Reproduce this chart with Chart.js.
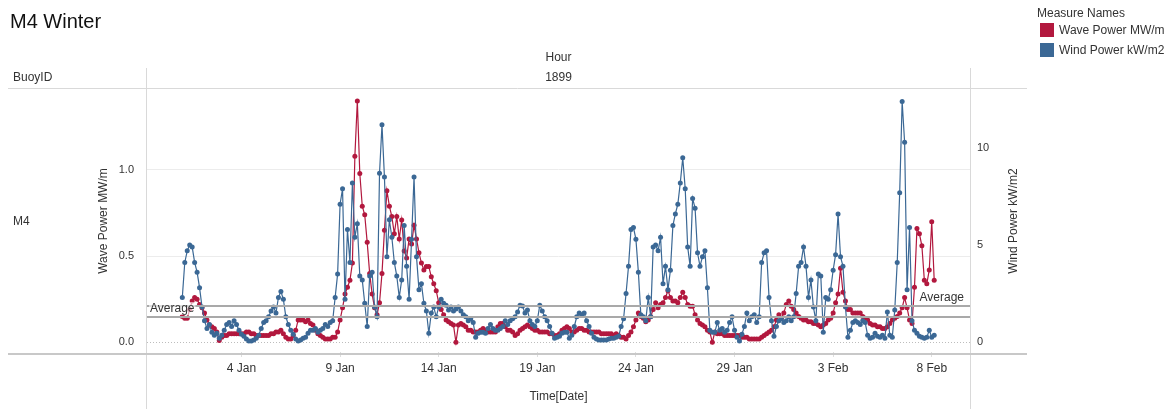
<!DOCTYPE html>
<html>
<head>
<meta charset="utf-8">
<title>M4 Winter</title>
<script src="https://cdn.jsdelivr.net/npm/chart.js@4.4.1/dist/chart.umd.min.js"></script>
<style>
  html, body { margin: 0; padding: 0; background: #fff; }
  canvas { display: block; }
</style>
</head>
<body>
<canvas id="chart" width="1176" height="409"></canvas>
<script>
// samples every 3 hours, starting 1 Jan 00:00 (one row per day)
const stepHours = 3;

const waveValues = [
  0.15, 0.14, 0.14, 0.19, 0.24, 0.26, 0.25, 0.22, // 1 Jan
  0.20, 0.17, 0.13, 0.10, 0.09, 0.08, 0.06, 0.01,
  0.03, 0.04, 0.04, 0.05, 0.05, 0.05, 0.05, 0.05,
  0.05, 0.05, 0.06, 0.06, 0.05, 0.05, 0.04, 0.04,
  0.04, 0.04, 0.04, 0.04, 0.05, 0.05, 0.06, 0.06,
  0.07, 0.05, 0.03, 0.02, 0.02, 0.04, 0.07, 0.13,
  0.13, 0.13, 0.12, 0.13, 0.11, 0.10, 0.07, 0.05,
  0.04, 0.03, 0.02, 0.02, 0.02, 0.03, 0.03, 0.06,
  0.13, 0.20, 0.28, 0.32, 0.36, 0.46, 1.08, 1.40, // 9 Jan
  0.98, 0.79, 0.74, 0.58, 0.40, 0.28, 0.20, 0.16,
  0.23, 0.40, 0.65, 0.88, 0.79, 0.73, 0.63, 0.73,
  0.60, 0.71, 0.53, 0.49, 0.60, 0.57, 0.68, 0.60,
  0.52, 0.46, 0.42, 0.44, 0.44, 0.38, 0.34, 0.30,
  0.23, 0.19, 0.16, 0.13, 0.12, 0.11, 0.10, 0.00,
  0.10, 0.11, 0.10, 0.09, 0.07, 0.07, 0.06, 0.06,
  0.06, 0.07, 0.08, 0.07, 0.06, 0.06, 0.06, 0.06,
  0.09, 0.11, 0.11, 0.09, 0.07, 0.07, 0.06, 0.04,
  0.05, 0.07, 0.08, 0.09, 0.10, 0.09, 0.08, 0.07,
  0.07, 0.06, 0.06, 0.06, 0.06, 0.05, 0.05, 0.04, // 19 Jan
  0.04, 0.05, 0.07, 0.08, 0.09, 0.08, 0.06, 0.06,
  0.07, 0.08, 0.08, 0.07, 0.07, 0.06, 0.06, 0.06,
  0.06, 0.06, 0.05, 0.05, 0.05, 0.05, 0.05, 0.04,
  0.05, 0.04, 0.03, 0.03, 0.02, 0.04, 0.06, 0.09,
  0.13, 0.17, 0.15, 0.14, 0.12, 0.13, 0.15, 0.19,
  0.23, 0.20, 0.22, 0.23, 0.26, 0.30, 0.26, 0.24,
  0.24, 0.23, 0.26, 0.29, 0.26, 0.22, 0.21, 0.21,
  0.16, 0.13, 0.11, 0.10, 0.09, 0.07, 0.06, 0.00,
  0.06, 0.05, 0.05, 0.05, 0.04, 0.04, 0.04, 0.04,
  0.04, 0.04, 0.04, 0.03, 0.03, 0.03, 0.02, 0.02, // 29 Jan
  0.02, 0.02, 0.02, 0.03, 0.04, 0.05, 0.06, 0.07,
  0.09, 0.13, 0.16, 0.14, 0.17, 0.22, 0.24, 0.21,
  0.19, 0.17, 0.15, 0.14, 0.13, 0.13, 0.12, 0.12,
  0.11, 0.11, 0.10, 0.09, 0.10, 0.11, 0.13, 0.14,
  0.17, 0.23, 0.28, 0.43, 0.29, 0.24, 0.19, 0.19,
  0.17, 0.17, 0.17, 0.17, 0.15, 0.14, 0.13, 0.11,
  0.10, 0.10, 0.09, 0.09, 0.08, 0.08, 0.09, 0.11,
  0.13, 0.14, 0.15, 0.17, 0.20, 0.26, 0.20, 0.13,
  0.11, 0.32, 0.66, 0.63, 0.56, 0.36, 0.34, 0.42,
  0.70, 0.36 // 8 Feb
];

const windValues = [
  2.3, 4.1, 4.7, 5.0, 4.9, 4.1, 3.6, 2.8, // 1 Jan
  1.8, 1.1, 0.7, 0.9, 0.5, 0.35, 0.45, 0.2,
  0.35, 0.6, 0.9, 1.0, 0.8, 1.1, 0.9, 0.6,
  0.4, 0.3, 0.15, 0.05, 0.05, 0.1, 0.2, 0.35,
  0.7, 1.0, 1.1, 1.3, 1.6, 1.8, 1.5, 2.3,
  2.6, 2.2, 1.3, 0.9, 0.6, 0.4, 0.15, 0.05,
  0.1, 0.2, 0.25, 0.45, 0.6, 0.6, 0.7, 0.5,
  0.6, 0.7, 0.9, 0.8, 1.0, 1.1, 2.3, 3.5,
  7.1, 7.9, 2.2, 5.8, 4.1, 8.2, 5.4, 6.1, // 9 Jan
  3.4, 3.2, 2.0, 0.8, 3.4, 3.6, 1.8, 1.3,
  8.7, 11.2, 8.5, 4.4, 6.3, 5.4, 4.1, 3.4,
  2.3, 3.2, 6.0, 3.9, 2.2, 5.3, 8.5, 4.4,
  2.7, 3.0, 2.0, 1.6, 0.45, 1.5, 1.8, 1.3,
  1.8, 2.2, 2.0, 1.9, 1.65, 1.8, 1.6, 1.7,
  1.8, 1.6, 1.4, 1.3, 1.1, 1.2, 1.0, 0.25,
  0.45, 0.5, 0.5, 0.45, 0.7, 0.9, 0.7, 0.6,
  0.6, 0.7, 0.8, 1.1, 0.9, 1.1, 1.2, 1.3,
  1.55, 1.9, 1.85, 1.5, 1.65, 1.1, 0.9, 0.8,
  1.1, 1.9, 1.6, 1.3, 1.1, 0.8, 0.45, 0.2, // 19 Jan
  0.25, 0.3, 0.45, 0.5, 0.5, 0.2, 0.35, 0.8,
  1.3, 1.5, 1.4, 1.5, 1.1, 0.8, 0.45, 0.25,
  0.15, 0.1, 0.1, 0.1, 0.1, 0.15, 0.2, 0.2,
  0.25, 0.3, 0.8, 1.2, 2.5, 3.9, 5.8, 5.9,
  5.3, 3.6, 1.4, 1.3, 1.1, 2.3, 1.3, 4.9,
  5.0, 4.7, 5.4, 3.0, 3.9, 2.7, 3.7, 6.0,
  6.6, 7.1, 8.2, 9.5, 7.9, 4.9, 3.9, 7.4,
  6.9, 4.6, 3.9, 4.4, 4.7, 2.8, 0.6, 0.5,
  0.5, 1.0, 0.6, 0.7, 0.5, 0.6, 1.0, 1.3,
  0.6, 0.25, 0.05, 0.4, 0.8, 1.5, 1.1, 1.3, // 29 Jan
  1.4, 1.0, 1.3, 4.1, 4.6, 4.7, 2.3, 1.1,
  0.3, 0.8, 1.1, 1.2, 1.0, 1.1, 1.3, 1.1,
  1.3, 2.5, 3.9, 4.1, 4.9, 3.9, 2.3, 3.2,
  1.8, 1.1, 3.5, 3.4, 0.5, 2.3, 2.2, 2.7,
  3.7, 4.5, 6.6, 4.4, 3.9, 1.8, 0.25, 0.6,
  1.0, 1.1, 1.0, 0.9, 1.1, 1.0, 0.35, 0.2,
  0.25, 0.45, 0.3, 0.25, 0.35, 0.2, 1.55, 0.35,
  0.25, 1.65, 4.1, 7.7, 12.4, 10.3, 2.7, 5.9,
  1.1, 0.6, 0.45, 0.3, 0.25, 0.2, 0.25, 0.6,
  0.25, 0.35 // 8 Feb
];

const waveAverage = 0.147;
const windAverage = 1.86;

// x axis in days after 1 Jan
const tickDays = [3, 8, 13, 18, 23, 28, 33, 38];
const tickLabels = ['4 Jan', '9 Jan', '14 Jan', '19 Jan', '24 Jan', '29 Jan', '3 Feb', '8 Feb'];
const waveTicks = [0, 0.5, 1.0];
const windTicks = [0, 5, 10];

const RED = '#b2183e';
const BLUE = '#3b6895';
const FONT = '"Liberation Sans", Arial, sans-serif';

Chart.defaults.font.family = FONT;
Chart.defaults.color = '#333';

function toPoints(values) {
  return values.map((v, i) => ({ x: i * stepHours / 24, y: v }));
}

// Tableau-like frame: title, headers, pane borders, legend, reference lines
const frame = {
  id: 'frame',
  beforeDatasetsDraw(chart) {
    const { ctx, chartArea: a, scales } = chart;
    const y0 = Math.round(scales.y.getPixelForValue(0)) + 0.5;
    ctx.save();
    ctx.strokeStyle = '#bdbdbd';
    ctx.lineWidth = 1;
    ctx.setLineDash([1, 2]);
    ctx.beginPath();
    ctx.moveTo(a.left, y0);
    ctx.lineTo(a.right, y0);
    ctx.stroke();
    ctx.restore();
  },
  afterDatasetsDraw(chart) {
    const { ctx, chartArea: a, scales } = chart;
    const yWave = scales.y.getPixelForValue(waveAverage);
    const yWind = scales.y2.getPixelForValue(windAverage);
    ctx.save();
    ctx.strokeStyle = '#a9a9a9';
    ctx.lineWidth = 2;
    [yWave, yWind].forEach(y => {
      ctx.beginPath();
      ctx.moveTo(a.left, y);
      ctx.lineTo(a.right, y);
      ctx.stroke();
    });
    ctx.font = '12px ' + FONT;
    ctx.textBaseline = 'middle';
    // left label (wave average)
    let w = ctx.measureText('Average').width;
    ctx.fillStyle = 'rgba(255,255,255,0.6)';
    ctx.fillRect(a.left + 2, yWave - 15, w + 2, 13);
    ctx.fillStyle = '#333';
    ctx.textAlign = 'left';
    ctx.fillText('Average', a.left + 3, yWave - 8.5);
    // right label (wind average)
    ctx.fillStyle = 'rgba(255,255,255,0.6)';
    ctx.fillRect(a.right - 7 - w, yWind - 15, w + 2, 13);
    ctx.fillStyle = '#333';
    ctx.textAlign = 'right';
    ctx.fillText('Average', a.right - 6, yWind - 8.5);
    ctx.restore();
  },
  afterDraw(chart) {
    const { ctx, chartArea: a } = chart;
    ctx.save();
    // pane borders
    ctx.strokeStyle = '#d9d9d9';
    ctx.lineWidth = 1;
    ctx.beginPath();
    ctx.moveTo(a.left - 0.5, 68); ctx.lineTo(a.left - 0.5, 409);
    ctx.moveTo(a.right + 0.5, 68); ctx.lineTo(a.right + 0.5, 409);
    ctx.moveTo(8, 88.5); ctx.lineTo(1027, 88.5);
    ctx.stroke();
    ctx.strokeStyle = '#c8c8c8';
    ctx.lineWidth = 2;
    ctx.beginPath();
    ctx.moveTo(8, 354); ctx.lineTo(1027, 354);
    ctx.stroke();

    // title
    ctx.fillStyle = '#111';
    ctx.textBaseline = 'middle';
    ctx.textAlign = 'left';
    ctx.font = '20px ' + FONT;
    ctx.fillText('M4 Winter', 10, 22);

    // headers
    const mid = (a.left + a.right) / 2;
    ctx.fillStyle = '#333';
    ctx.font = '12px ' + FONT;
    ctx.fillText('BuoyID', 13, 78);
    ctx.fillText('M4', 13, 222);
    ctx.textAlign = 'center';
    ctx.fillText('Hour', mid, 58);
    ctx.fillText('1899', mid, 78);

    // right axis title, read bottom to top
    ctx.save();
    ctx.translate(1014, (a.top + a.bottom) / 2);
    ctx.rotate(-Math.PI / 2);
    ctx.fillText('Wind Power kW/m2', 0, 0);
    ctx.restore();

    // legend
    ctx.textAlign = 'left';
    ctx.fillText('Measure Names', 1037, 14);
    ctx.fillStyle = RED;
    ctx.fillRect(1040, 23, 14, 14);
    ctx.fillStyle = BLUE;
    ctx.fillRect(1040, 43, 14, 14);
    ctx.fillStyle = '#333';
    ctx.fillText('Wave Power MW/m', 1059, 30.5);
    ctx.fillText('Wind Power kW/m2', 1059, 50.5);
    ctx.restore();
  }
};

new Chart(document.getElementById('chart'), {
  type: 'line',
  data: {
    datasets: [
      {
        label: 'Wind Power kW/m2',
        data: toPoints(windValues),
        yAxisID: 'y2',
        borderColor: BLUE,
        backgroundColor: BLUE,
        pointBackgroundColor: BLUE,
        order: 0
      },
      {
        label: 'Wave Power MW/m',
        data: toPoints(waveValues),
        yAxisID: 'y',
        borderColor: RED,
        backgroundColor: RED,
        pointBackgroundColor: RED,
        order: 1
      }
    ]
  },
  options: {
    responsive: false,
    animation: false,
    devicePixelRatio: 1,
    layout: { padding: { top: 90, left: 90, right: 149, bottom: 0 } },
    elements: {
      point: { radius: 2.5, borderWidth: 0, hoverRadius: 2.5 },
      line: { borderWidth: 1.2, tension: 0 }
    },
    plugins: { legend: { display: false }, tooltip: { enabled: false } },
    scales: {
      x: {
        type: 'linear',
        min: -1.79,
        max: 39.94,
        afterBuildTicks: s => { s.ticks = tickDays.map(v => ({ value: v })); },
        afterFit: s => { s.height = 57; },
        ticks: {
          callback: (v, i) => tickLabels[i],
          autoSkip: false,
          maxRotation: 0,
          padding: 4,
          font: { size: 12 },
          color: '#333'
        },
        grid: { display: true, drawOnChartArea: false, tickLength: 5, color: '#dedede' },
        border: { display: false },
        title: { display: true, text: 'Time[Date]', font: { size: 12 }, color: '#333', padding: { top: 0, bottom: 5 } }
      },
      y: {
        position: 'left',
        min: -0.056,
        max: 1.464,
        afterBuildTicks: s => { s.ticks = waveTicks.map(v => ({ value: v })); },
        afterFit: s => { s.width = 57; },
        ticks: { callback: v => v.toFixed(1), padding: 13, font: { size: 11 }, color: '#333' },
        grid: {
          drawTicks: false,
          color: c => (c.tick && c.tick.value === 0) ? 'rgba(0,0,0,0)' : '#ececec'
        },
        border: { display: false },
        title: { display: true, text: 'Wave Power MW/m', font: { size: 12 }, color: '#333', padding: { top: 6, bottom: 0 } }
      },
      y2: {
        position: 'right',
        min: -0.515,
        max: 12.99,
        afterBuildTicks: s => { s.ticks = windTicks.map(v => ({ value: v })); },
        afterFit: s => { s.width = 57; },
        ticks: { callback: v => String(v), padding: 7, font: { size: 11 }, color: '#333' },
        grid: { drawOnChartArea: false, drawTicks: false },
        border: { display: false }
      }
    }
  },
  plugins: [frame]
});
</script>
</body>
</html>
